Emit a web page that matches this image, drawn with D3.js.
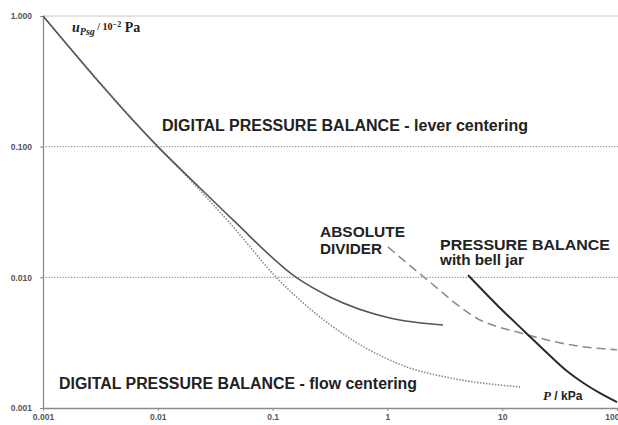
<!DOCTYPE html>
<html>
<head>
<meta charset="utf-8">
<script src="https://cdn.jsdelivr.net/npm/d3@7"></script>
<style>
  body { margin: 0; background: #fff; }
  svg { display: block; }
</style>
</head>
<body>
<div id="chart"></div>
<script>
// pressure (kPa) vs uncertainty (10^-2 Pa)
const leverP = [0.001, 0.01, 0.0233, 0.0452, 0.163, 0.316, 1.05, 3.05];
const leverU = [1.0, 0.1, 0.0483, 0.0275, 0.00989, 0.00708, 0.00489, 0.00432];

const flowP = [0.001, 0.01, 0.0199, 0.0452, 0.109, 0.336, 1.48, 3.51, 14.3];
const flowU = [1.0, 0.1, 0.0537, 0.0244, 0.00989, 0.00418, 0.00206, 0.0017, 0.00145];

const dividerP = [1.01, 2.13, 6.41, 14.3, 50.6, 100];
const dividerU = [0.0171, 0.00988, 0.00472, 0.00376, 0.00294, 0.00279];

const bellP = [5.04, 9.57, 15.8, 26.1, 36.6, 50.6, 71.1, 100];
const bellU = [0.0104, 0.00583, 0.00382, 0.00251, 0.00192, 0.00156, 0.0013, 0.00111];

const xTicks = [0.001, 0.01, 0.1, 1, 10, 100];
const xTickLabels = ["0.001", "0.01", "0.1", "1", "10", "100"];
const yTicks = [1, 0.1, 0.01, 0.001];
const yTickLabels = ["1.000", "0.100", "0.010", "0.001"];
const gridU = [0.1, 0.01];

const W = 618, H = 425;
const svg = d3.select("#chart").append("svg")
  .attr("width", W)
  .attr("height", H);

const x = d3.scaleLog().domain([0.001, 100]).range([43, 617]);
const y = d3.scaleLog().domain([0.001, 1]).range([408, 16]);

// top border line
svg.append("line")
  .attr("x1", x(0.001)).attr("x2", W)
  .attr("y1", y(1)).attr("y2", y(1))
  .attr("stroke", "#c8c8c8").attr("stroke-width", 1);

// dotted gridlines
svg.selectAll(".grid")
  .data(gridU)
  .enter().append("line")
  .attr("class", "grid")
  .attr("x1", x(0.001)).attr("x2", W)
  .attr("y1", d => y(d)).attr("y2", d => y(d))
  .attr("stroke", "#7a7a7a")
  .attr("stroke-width", 1)
  .attr("stroke-dasharray", "1.2,1.6");

// axes
const xAxis = d3.axisBottom(x)
  .tickValues(xTicks)
  .tickFormat((d, i) => xTickLabels[i])
  .tickSizeInner(3).tickSizeOuter(0)
  .tickPadding(3);
const gx = svg.append("g")
  .attr("transform", `translate(0,${y(0.001)})`)
  .call(xAxis);

const yAxis = d3.axisLeft(y)
  .tickValues(yTicks)
  .tickFormat((d, i) => yTickLabels[i])
  .tickSizeInner(3).tickSizeOuter(0)
  .tickPadding(8);
const gy = svg.append("g")
  .attr("transform", `translate(${x(0.001)},0)`)
  .call(yAxis);

[gx, gy].forEach(g => {
  g.select(".domain").attr("stroke", "#8a8a8a").attr("stroke-width", 1.3);
  g.selectAll(".tick line").attr("stroke", "#8a8a8a");
  g.selectAll(".tick text")
    .attr("font-family", "Liberation Sans, Arial, sans-serif")
    .attr("font-size", 8.5)
    .attr("font-weight", "bold")
    .attr("fill", "#555");
});
// last x label sits against the right edge
gx.selectAll(".tick text").filter(d => d === 100).attr("text-anchor", "end").attr("dx", 2);

// curves
const line = d3.line()
  .x(d => x(d[0]))
  .y(d => y(d[1]))
  .curve(d3.curveMonotoneX);

const zip = (a, b) => a.map((v, i) => [v, b[i]]);

svg.append("path")
  .datum(zip(flowP, flowU))
  .attr("d", line)
  .attr("fill", "none")
  .attr("stroke", "#8c8c8c")
  .attr("stroke-width", 1.6)
  .attr("stroke-dasharray", "1.5,1.5");

svg.append("path")
  .datum(zip(leverP, leverU))
  .attr("d", line)
  .attr("fill", "none")
  .attr("stroke", "#555")
  .attr("stroke-width", 1.6);

svg.append("path")
  .datum(zip(dividerP, dividerU))
  .attr("d", line)
  .attr("fill", "none")
  .attr("stroke", "#8c8c8c")
  .attr("stroke-width", 1.6)
  .attr("stroke-dasharray", "9,5");

svg.append("path")
  .datum(zip(bellP, bellU))
  .attr("d", line)
  .attr("fill", "none")
  .attr("stroke", "#2a2a2a")
  .attr("stroke-width", 2);

// labels
const sans = "Liberation Sans, Arial, sans-serif";
function label(txt, lx, ly, size, len, weight) {
  const t = svg.append("text")
    .attr("x", lx).attr("y", ly)
    .attr("font-family", sans)
    .attr("font-size", size)
    .attr("font-weight", weight || "bold")
    .attr("fill", "#222")
    .text(txt);
  if (len) t.attr("textLength", len).attr("lengthAdjust", "spacingAndGlyphs");
  return t;
}

label("DIGITAL PRESSURE BALANCE - lever centering", 162, 131, 16, 366);
label("DIGITAL PRESSURE BALANCE - flow centering", 59, 389, 16, 358);
label("ABSOLUTE", 320, 237, 15, 85);
label("DIVIDER", 320, 254, 15, 62);
label("PRESSURE BALANCE", 440, 250, 15, 170);
label("with bell jar", 440, 265, 14, 84);

// x-axis title
const px = svg.append("text")
  .attr("x", 543).attr("y", 400)
  .attr("font-family", "Liberation Serif, Times New Roman, serif")
  .attr("font-weight", "bold")
  .attr("font-size", 13)
  .attr("fill", "#222");
px.append("tspan").attr("font-style", "italic").text("P");
px.append("tspan").attr("font-family", sans).attr("font-size", 12).text(" / kPa");

// y-axis title
const uy = svg.append("text")
  .attr("x", 72).attr("y", 32)
  .attr("font-family", "Liberation Serif, Times New Roman, serif")
  .attr("font-weight", "bold")
  .attr("font-size", 14)
  .attr("fill", "#222");
uy.append("tspan").attr("font-style", "italic").text("u");
uy.append("tspan").attr("font-style", "italic").attr("font-size", 10).attr("dy", 3).text("Psg");
uy.append("tspan").attr("font-size", 10).attr("dy", -5).text(" / 10");
uy.append("tspan").attr("font-size", 8).attr("dy", -3).text("−2");
uy.append("tspan").attr("dy", 5).text(" Pa");
</script>
</body>
</html>
